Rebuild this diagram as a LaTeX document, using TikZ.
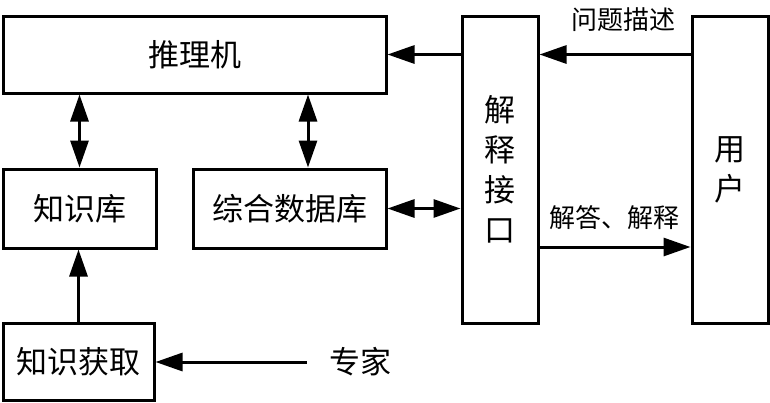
\documentclass[tikz,border=0pt]{standalone}
\usepackage{fontspec}
\setmainfont{Noto Sans CJK SC}
\usetikzlibrary{arrows.meta}

\tikzset{
  blockbox/.style={draw, line width=3pt, inner sep=0pt, font=\fontsize{31}{40}\selectfont, align=center},
  flowarrow/.style={line width=3pt, -{Triangle[length=27pt,width=18pt]}},
  dblarrow/.style={line width=3pt, {Triangle[length=27pt,width=18pt]}-{Triangle[length=27pt,width=18pt]}},
  smalllabel/.style={font=\fontsize{26}{30}\selectfont, inner sep=0pt}
}

\begin{document}
\begin{tikzpicture}[x=1pt, y=-1pt]
  % Fix the picture size
  \useasboundingbox (0,0) rectangle (770,402);

  % Draw the blocks
  \node[blockbox, minimum width=383pt, minimum height=77pt] (engine) at (194.5,54.5) {推理机};
  \node[blockbox, minimum width=153pt, minimum height=79pt] (kbase) at (79.5,208.5) {知识库};
  \node[blockbox, minimum width=193pt, minimum height=79pt] (dbase) at (289.5,208.5) {综合数据库};
  \node[blockbox, minimum width=76pt, minimum height=307pt] (explain) at (500,169.5) {解\\释\\接\\口};
  \node[blockbox, minimum width=76pt, minimum height=307pt] (user) at (730,169.5) {用\\户};
  \node[blockbox, minimum width=151pt, minimum height=77pt] (acquire) at (78.5,361.5) {知识获取};

  % Expert text on the bottom row
  \node[font=\fontsize{31}{40}\selectfont, inner ysep=0pt, inner xsep=22pt] (expert) at (360,362) {专家};

  % Draw arrows between engine and the two bases
  \draw[dblarrow] (kbase.north) -- (kbase.north |- engine.south);
  \draw[dblarrow] ([xshift=18.5pt]dbase.north) -- ([xshift=18.5pt]dbase.north |- engine.south);

  % Draw arrows from user to explain interface to engine
  \draw[flowarrow] (explain.west |- engine.east) -- (engine.east);
  \draw[flowarrow] (user.west |- engine.east) -- (explain.east |- engine.east);
  \node[smalllabel] (question) at (623,20) {问题描述};

  % Draw arrow between database and explain interface
  \draw[dblarrow] (dbase.east) -- (explain.west |- dbase.east);

  % Draw arrow from explain interface to user
  \coordinate (answer start) at ([yshift=-77.5pt]explain.east);
  \draw[flowarrow] (answer start) -- (answer start -| user.west);
  \node[smalllabel] (answer) at (614,218) {解答、解释};

  % Draw arrows for knowledge acquisition
  \draw[flowarrow] (acquire.north) -- (acquire.north |- kbase.south);
  \draw[flowarrow] (expert.west) -- (acquire.east |- expert.west);
\end{tikzpicture}
\end{document}
